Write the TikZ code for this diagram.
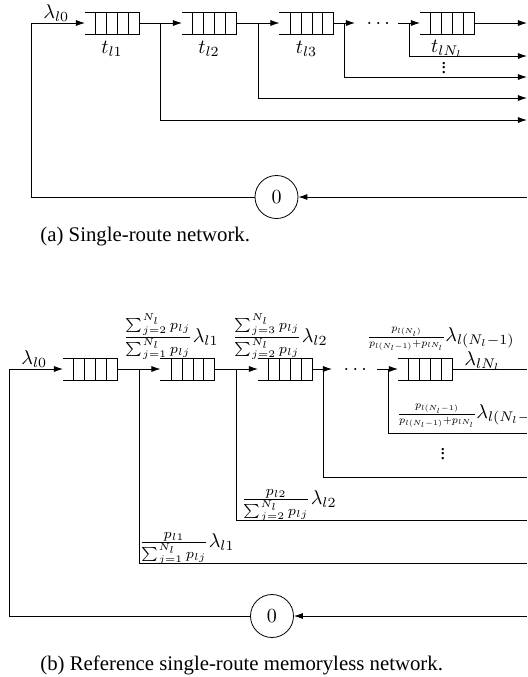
\documentclass[tikz,border=0pt]{standalone}
\usepackage{amsmath}
\usepackage{graphicx}
\usepackage[no-math]{fontspec}
\setmainfont{Liberation Serif}
\usetikzlibrary{arrows.meta,calc}
\newcommand{\smallvdots}{\vbox{\baselineskip=2.3pt\lineskiplimit=-5pt\hbox{.}\hbox{.}\hbox{.}}}
\begin{document}
\begin{tikzpicture}[x=0.5pt,y=-0.5pt,
  >={Latex[length=4.5pt,width=3pt]},
  line width=0.4pt,
  queue/.style={minimum width=27pt,minimum height=11pt,inner sep=0pt,outer sep=0pt},
  server/.style={circle,draw,minimum size=21.5pt,inner sep=0pt},
  lbl/.style={inner sep=0pt,anchor=base west},
  tlbl/.style={inner sep=0pt,anchor=base},
  vd/.style={inner sep=0pt},
  captxt/.style={inner sep=0pt,anchor=base west,font=\fontsize{10.4pt}{12pt}\selectfont}]
\useasboundingbox (0,0) rectangle (527,677);
\clip (0,0) rectangle (527,677);

% ---------- (a) ----------
\node[queue] (qa1) at (112,23) {};
\node[queue] (qa2) at (209,23) {};
\node[queue] (qa3) at (306.5,23) {};
\node[queue] (qaN) at (447,23) {};
\node[server] (ca) at (276.5,197) {$0$};

\coordinate (ia) at (31,23);
\coordinate (ba1) at (160,23); \coordinate (ea1) at (527,120);
\coordinate (ba2) at (258,23); \coordinate (ea2) at (527,98);
\coordinate (ba3) at (344,23); \coordinate (ea3) at (527,77);
\coordinate (ba4) at (409,23); \coordinate (ea4) at (527,56);
\coordinate (oa3) at (355,23);
\coordinate (sa4) at (398,23);
\coordinate (ea5) at (527,23);
\coordinate (ra) at (527,197);

\draw[->] (ca.west) -| (ia) -- (qa1.west);
\draw[->] (qa1.east) -- (qa2.west);
\draw[->] (ba1) |- (ea1);
\draw[->] (qa2.east) -- (qa3.west);
\draw[->] (ba2) |- (ea2);
\draw[->] (qa3.east) -- (oa3);
\draw[->] (ba3) |- (ea3);
\draw[->] (sa4) -- (qaN.west);
\draw[->] (ba4) |- (ea4);
\draw[->] (qaN.east) -- (ea5);
\draw[->] (ra) -- (ca.east);

\node[lbl] (la0) at (43,18) {$\lambda_{l0}$};
\node[tlbl] (ta1) at (112,53) {$t_{l1}$};
\node[tlbl] (ta2) at (209,53) {$t_{l2}$};
\node[tlbl] (ta3) at (306.5,53) {$t_{l3}$};
\node[tlbl] (taN) at (447,52) {$t_{lN_l}$};
\node[tlbl] (dotsa) at (380,28) {$\cdots$};
\node[vd] (vda) at (444,68) {\smallvdots};
\node[captxt] (capa) at (40,241) {(a) Single-route network.};

% ---------- (b) ----------
\node[queue] (qb1) at (90,369) {};
\node[queue] (qb2) at (187.5,369) {};
\node[queue] (qb3) at (285,369) {};
\node[queue] (qbN) at (425,369) {};
\node[server] (cb) at (272,616) {$0$};

\coordinate (ib) at (9,369);
\coordinate (bb1) at (139,369); \coordinate (eb1) at (527,563);
\coordinate (bb2) at (236,369); \coordinate (eb2) at (527,520);
\coordinate (bb3) at (323,369); \coordinate (eb3) at (527,477);
\coordinate (bb4) at (388,369); \coordinate (eb4) at (527,433);
\coordinate (ob3) at (332,369);
\coordinate (sb4) at (377,369);
\coordinate (eb5) at (527,369);
\coordinate (rb) at (527,616);

\draw[->] (cb.west) -| (ib) -- (qb1.west);
\draw[->] (qb1.east) -- (qb2.west);
\draw (bb1) |- (eb1);
\draw[->] (qb2.east) -- (qb3.west);
\draw (bb2) |- (eb2);
\draw[->] (qb3.east) -- (ob3);
\draw (bb3) |- (eb3);
\draw[->] (sb4) -- (qbN.west);
\draw (bb4) |- (eb4);
\draw (qbN.east) -- (eb5);
\draw[->] (rb) -- (cb.east);

\node[lbl] (lb0) at (21,364) {$\lambda_{l0}$};
\node[lbl] (lb1) at (123,342) {$\frac{\sum_{j=2}^{N_l}p_{lj}}{\sum_{j=1}^{N_l}p_{lj}}\lambda_{l1}$};
\node[lbl] (lb2) at (232,342) {$\frac{\sum_{j=3}^{N_l}p_{lj}}{\sum_{j=2}^{N_l}p_{lj}}\lambda_{l2}$};
\node[lbl] (lbN) at (367,341) {\resizebox{39pt}{!}{$\frac{p_{l(N_l)}}{p_{l(N_l-1)}+p_{lN_l}}$}$\lambda_{l(N_l-1)}$};
\node[lbl] (lbNo) at (464,365) {$\lambda_{lN_l}$};
\node[lbl] (lbN1) at (397,418) {\resizebox{39.5pt}{!}{$\frac{p_{l(N_l-1)}}{p_{l(N_l-1)}+p_{lN_l}}$}$\lambda_{l(N_l-1)}$};
\node[lbl] (lbc2) at (241,504) {$\frac{p_{l2}}{\sum_{j=2}^{N_l}p_{lj}}\lambda_{l2}$};
\node[lbl] (lbc1) at (139,547) {$\frac{p_{l1}}{\sum_{j=1}^{N_l}p_{lj}}\lambda_{l1}$};
\node[tlbl] (dotsb) at (357,374) {$\cdots$};
\node[vd] (vdb) at (443,454) {\smallvdots};
\node[captxt] (capb) at (40,670) {(b) Reference single-route memoryless network.};

% queue drawings
\foreach \q in {qa1,qa2,qa3,qaN,qb1,qb2,qb3,qbN}{
  \draw (\q.north west) -- (\q.north east) -- (\q.south east) -- (\q.south west);
  \foreach \f in {0.2,0.4,0.6,0.8}
    \draw ($(\q.north west)!\f!(\q.north east)$) -- ($(\q.south west)!\f!(\q.south east)$);
}
\end{tikzpicture}
\end{document}
